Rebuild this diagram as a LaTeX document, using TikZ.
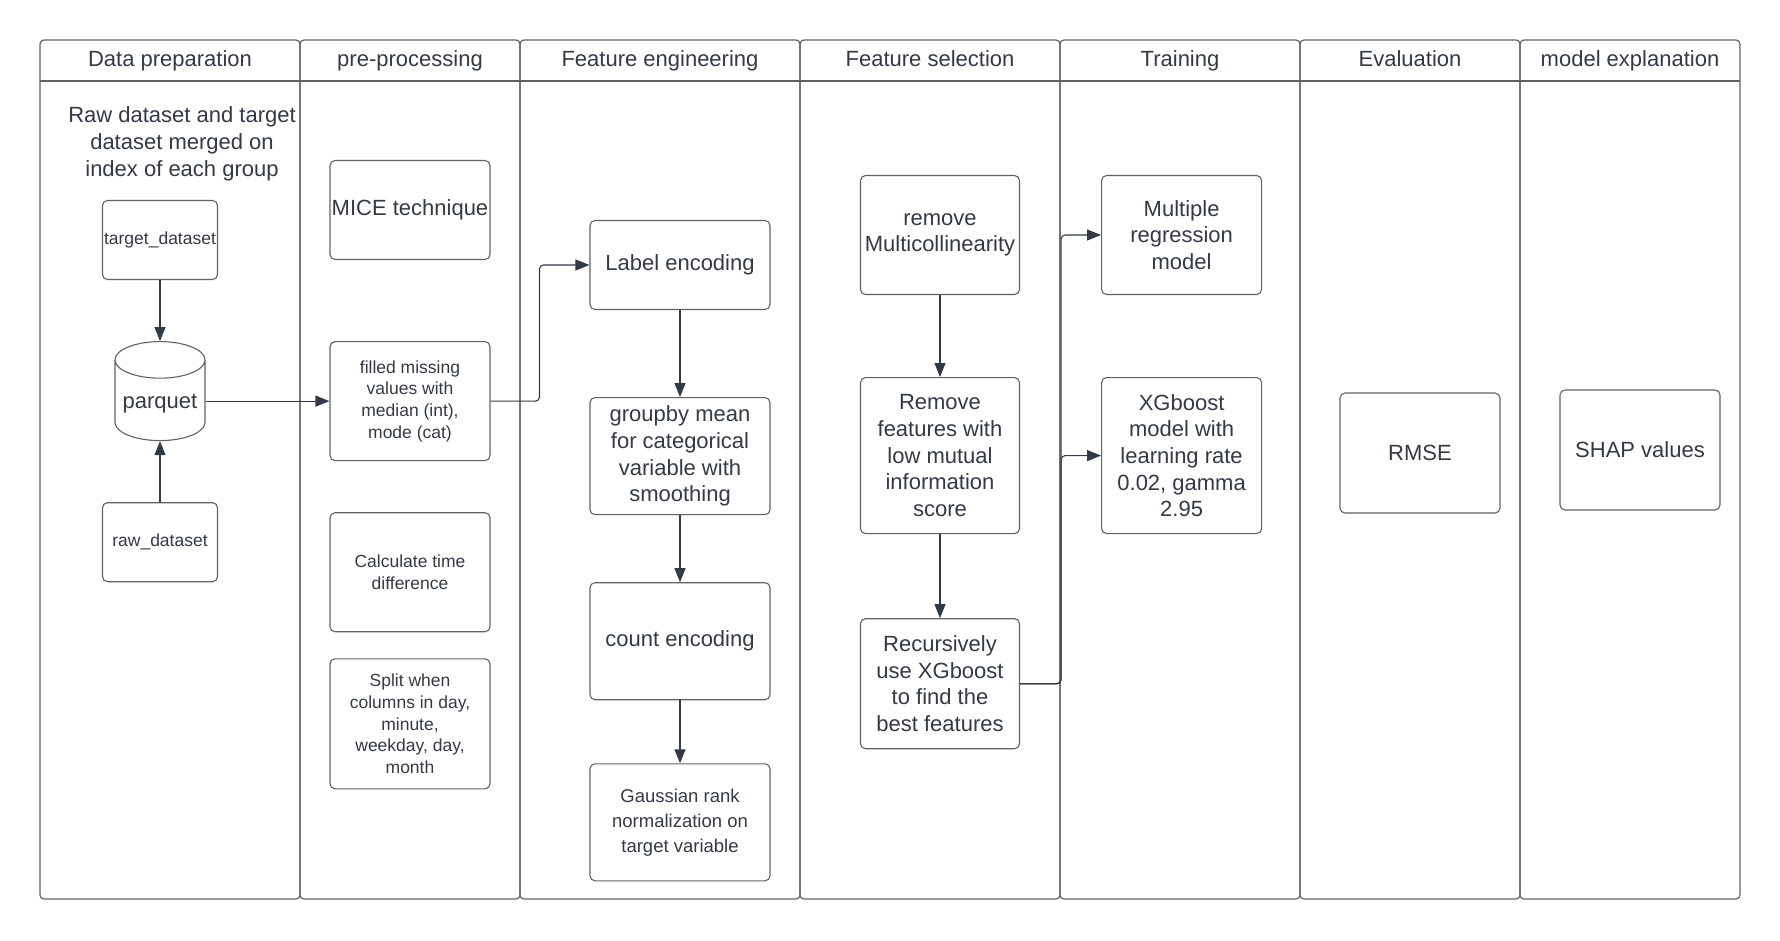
\documentclass[tikz,border=0pt]{standalone}
\usepackage{fontspec}
\setmainfont{Liberation Sans}
\usetikzlibrary{positioning, shapes.geometric, arrows.meta}

\definecolor{ink}{HTML}{333A45}
\definecolor{rim}{HTML}{5F6368}

\tikzset{
  lane/.style={draw=rim, line width=1.2pt, rounded corners=4pt},
  head/.style={text=ink, font=\fontsize{22}{26.7}\selectfont},
  box/.style={draw=rim, line width=1.1pt, rounded corners=5pt, align=center,
    text=ink, inner sep=1pt, font=\fontsize{22}{26.7}\selectfont},
  small/.style={font=\fontsize{17.5}{21.7}\selectfont},
  mid/.style={font=\fontsize{18.5}{25}\selectfont},
  cyl/.style={draw=rim, line width=1.1pt, cylinder, shape border rotate=90,
    aspect=0.45, minimum width=90pt, minimum height=99pt, text=ink,
    font=\fontsize{22}{26.7}\selectfont},
  arr/.style={draw=ink, line width=1.1pt, -{Triangle[length=14pt,width=11pt]}},
}

\begin{document}
\begin{tikzpicture}[x=1pt, y=-1pt]
  \useasboundingbox (0,0) rectangle (1780,940);

  % swimlanes
  \foreach \l/\r/\t [count=\i] in {40/300/Data preparation, 300/520/pre-processing,
      520/800/Feature engineering, 800/1060/Feature selection, 1060/1300/Training,
      1300/1520/Evaluation, 1520/1740/model explanation} {
    \draw[lane] (\l,40) rectangle (\r,899);
    \draw[lane] (\l,81) -- (\r,81);
    \node[head, anchor=base] (head\i) at ({(\l+\r)/2},66) {\t};
  }

  % data preparation
  \node[head, align=center] (note) at (182,144) {Raw dataset and target\\dataset merged on\\index of each group};
  \node[box, small, minimum width=115pt, minimum height=79pt, inner sep=0pt] (target) at (160,240) {target\_dataset};
  \node[cyl, below=61pt of target] (parquet) {parquet};
  \node[box, small, minimum width=115pt, minimum height=79pt, below=61pt of parquet] (raw) {raw\_dataset};

  % pre-processing
  \node[box, minimum width=160pt, minimum height=99pt] (mice) at (410,210) {MICE technique};
  \node[box, small, minimum width=160pt, minimum height=119pt, below=81pt of mice] (fill) {filled missing\\values with\\median (int),\\mode (cat)};
  \node[box, small, minimum width=160pt, minimum height=119pt, below=51pt of fill] (timediff) {Calculate time\\difference};
  \node[box, small, minimum width=160pt, minimum height=130pt, below=26pt of timediff] (split) {Split when\\columns in day,\\minute,\\weekday, day,\\month};

  % feature engineering
  \node[box, minimum width=180pt, minimum height=89pt] (labelenc) at (680,265) {Label encoding};
  \node[box, minimum width=180pt, minimum height=117pt, below=87pt of labelenc] (groupby) {groupby mean\\for categorical\\variable with\\smoothing};
  \node[box, minimum width=180pt, minimum height=117pt, below=67pt of groupby] (countenc) {count encoding};
  \node[box, mid, minimum width=180pt, minimum height=117pt, below=63pt of countenc] (gauss) {Gaussian rank\\normalization on\\target variable};

  % feature selection
  \node[box, minimum width=159pt, minimum height=119pt] (multicol) at (940,235) {remove\\Multicollinearity};
  \node[box, minimum width=159pt, minimum height=156pt, below=82pt of multicol] (mutinfo) {Remove\\features with\\low mutual\\information\\score};
  \node[box, minimum width=159pt, minimum height=130pt, below=84pt of mutinfo] (rfe) {Recursively\\use XGboost\\to find the\\best features};

  % training
  \node[box, minimum width=160pt, minimum height=119pt, right=81pt of multicol] (linreg) {Multiple\\regression\\model};
  \node[box, minimum width=160pt, minimum height=156pt, right=81pt of mutinfo] (xgb) {XGboost\\model with\\learning rate\\0.02, gamma\\2.95};

  % evaluation and explanation
  \node[box, minimum width=160pt, minimum height=120pt] (rmse) at (1420,453) {RMSE};
  \node[box, minimum width=160pt, minimum height=120pt] (shap) at (1640,450) {SHAP values};

  % connectors
  \draw[arr] (target) -- (parquet);
  \draw[arr] (raw) -- (parquet);
  \draw[arr] (fill.west -| parquet.east) -- (fill.west);
  \draw[arr, rounded corners=4pt] (fill.east) -| ([xshift=-50pt]labelenc.west) -- (labelenc.west);
  \draw[arr] (labelenc) -- (groupby);
  \draw[arr] (groupby) -- (countenc);
  \draw[arr] (countenc) -- (gauss);
  \draw[arr] (multicol) -- (mutinfo);
  \draw[arr] (mutinfo) -- (rfe);
  \draw[arr, rounded corners=4pt] (rfe.east) -| ([xshift=-40pt]linreg.west) -- (linreg.west);
  \draw[arr, rounded corners=4pt] (rfe.east) -| ([xshift=-40pt]xgb.west) -- (xgb.west);
\end{tikzpicture}
\end{document}
